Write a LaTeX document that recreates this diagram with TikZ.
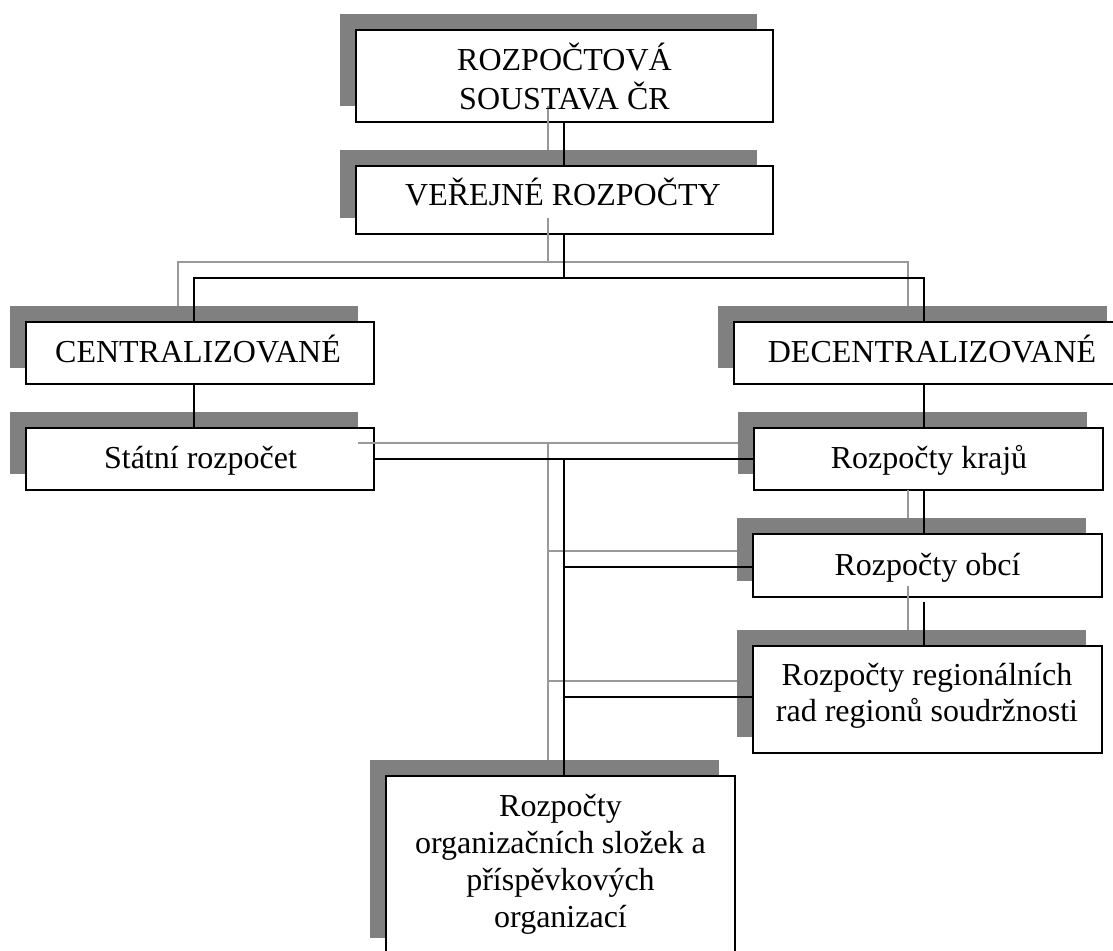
\documentclass[tikz,border=0pt]{standalone}
\usepackage{fontspec}
\setmainfont{Liberation Serif}
\usetikzlibrary{shadows}
\definecolor{shd}{HTML}{808080}
\definecolor{lgr}{HTML}{999999}
\begin{document}
\begin{tikzpicture}[x=1pt,y=-1pt,
  bx/.style={draw=black, line width=1.8pt, fill=white, rectangle, inner sep=0pt, outer sep=0pt, anchor=north west,
    general shadow={fill=shd, shadow xshift=-16pt, shadow yshift=16pt}},
  lbl/.style={anchor=base, inner sep=0pt, font=\fontsize{32}{36.8}\selectfont},
  bl/.style={draw=black, line width=1.8pt},
  gl/.style={draw=lgr, line width=1.3pt, transform canvas={shift={(-16pt,16pt)}}},
]
\useasboundingbox (0,0) rectangle (1113,950);
\clip (0,0) rectangle (1113,950);

% boxes
\node[bx, minimum width=417pt, minimum height=92pt]  (b1) at (356,30)  {};
\node[bx, minimum width=417pt, minimum height=68pt]  (b2) at (356,166) {};
\node[bx, minimum width=348pt, minimum height=62pt]  (b3) at (26,322)  {};
\node[bx, minimum width=389pt, minimum height=62pt]  (b4) at (734,322) {};
\node[bx, minimum width=348pt, minimum height=62pt]  (b5) at (26,428)  {};
\node[bx, minimum width=349pt, minimum height=62pt]  (b6) at (754,428) {};
\node[bx, minimum width=349pt, minimum height=63pt]  (b7) at (753,534) {};
\node[bx, minimum width=349pt, minimum height=107pt] (b8) at (753,646) {};
\node[bx, minimum width=349pt, minimum height=178pt] (b9) at (386,776) {};

% junction coordinates
\coordinate (jt) at (564,278);
\coordinate (cl) at (194,278);
\coordinate (cr) at (924,278);
\coordinate (tr) at (564,459);
\coordinate (r8) at (924,602);
\coordinate (k67) at (924,506);
\coordinate (e7) at ([yshift=-1.5pt]b7.west);
\coordinate (e8) at ([yshift=2.5pt]b8.west);

% gray (shadow) connectors
\draw[gl] (jt |- b1.south) -- (jt |- b2.north);
\draw[gl] (jt |- b2.south) -- (jt);
\draw[gl] (cl |- b3.north) -- (cl) -- (cr) -- (cr |- b4.north);
\draw[gl] (k67) -- (cr |- b7.north);
\draw[gl] (r8) -- (cr |- b8.north);
\draw[gl] (b5.east) -- (b6.west);
\draw[gl] (tr) -- (tr |- b9.north);
\draw[gl] (tr |- e7) -- (e7);
\draw[gl] (tr |- e8) -- (e8);

% black connectors
\draw[bl] (jt |- b1.south) -- (jt |- b2.north);
\draw[bl] (jt |- b2.south) -- (jt);
\draw[bl] (cl |- b3.north) -- (cl) -- (cr) -- (cr |- b4.north);
\draw[bl] (cl |- b3.south) -- (cl |- b5.north);
\draw[bl] (cr |- b4.south) -- (cr |- b6.north);
\draw[bl] (cr |- b6.south) -- (cr |- b7.north);
\draw[bl] (r8) -- (cr |- b8.north);
\draw[bl] (b5.east) -- (b6.west);
\draw[bl] (tr) -- (tr |- b9.north);
\draw[bl] (tr |- e7) -- (e7);
\draw[bl] (tr |- e8) -- (e8);

% labels
\node[lbl] (t1) at (564.5,70.7) {\begin{tabular}[t]{@{}c@{}}ROZPOČTOVÁ\\SOUSTAVA ČR\end{tabular}};
\node[lbl] (t2) at (563,205) {VEŘEJNÉ ROZPOČTY};
\node[lbl] (t3) at (198,362.7) {CENTRALIZOVANÉ};
\node[lbl] (t4) at (932,362.7) {DECENTRALIZOVANÉ};
\node[lbl] (t5) at (200.5,468) {Státní rozpočet};
\node[lbl] (t6) at (929,468) {Rozpočty krajů};
\node[lbl] (t7) at (927.5,575) {Rozpočty obcí};
\node[lbl] (t8) at (927,685) {\begin{tabular}[t]{@{}c@{}}Rozpočty regionálních\\rad regionů soudržnosti\end{tabular}};
\node[lbl] (t9) at (560.5,816.7) {\begin{tabular}[t]{@{}c@{}}Rozpočty\\organizačních složek a\\příspěvkových\\organizací\end{tabular}};
\end{tikzpicture}
\end{document}
